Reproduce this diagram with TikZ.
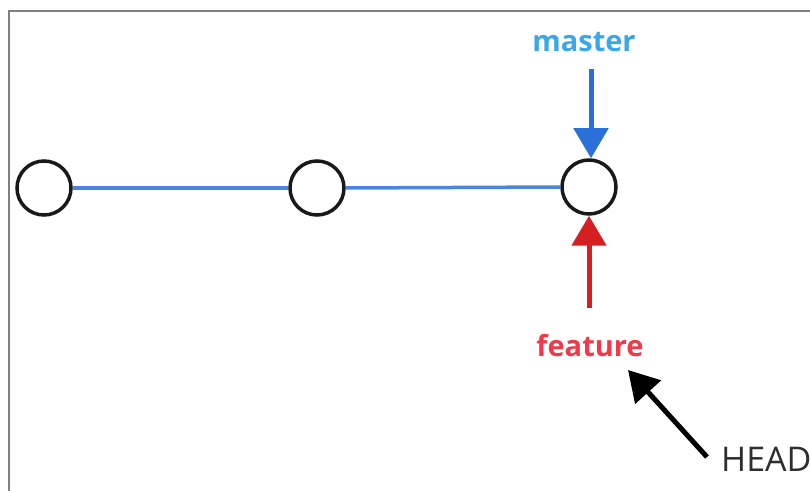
\documentclass[tikz,border=0pt]{standalone}
\usepackage{fontspec}
\setmainfont{Open Sans}
\usetikzlibrary{arrows.meta}
\definecolor{framegray}{HTML}{808080}
\definecolor{linkblue}{HTML}{4A86E0}
\definecolor{masterblue}{HTML}{2B6FD9}
\definecolor{mastertext}{HTML}{3AA8E8}
\definecolor{featred}{HTML}{D42020}
\definecolor{feattext}{HTML}{EE3A4A}
\definecolor{headtext}{HTML}{2E2E2E}
\tikzset{
  commit/.style={circle, draw=black!90, line width=3.5pt, fill=white, minimum size=54pt, inner sep=0pt},
  link/.style={draw=linkblue, line width=3.5pt},
  ptr/.style={line width=5pt, -{Triangle[length=30pt,width=34pt]}},
  lbl/.style={inner sep=0pt, font=\fontsize{29}{33}\selectfont\bfseries}
}
\begin{document}
\begin{tikzpicture}[x=1pt,y=1pt]
\useasboundingbox (0,0) rectangle (810,490);
\fill[white] (0,0) rectangle (810,490);
\draw[framegray, line width=2.5pt] (9,-20) -- (9,479) -- (830,479);
% commits
\node[commit] (c1) at (44,302) {};
\node[commit] (c2) at (317,302) {};
\node[commit] (c3) at (589,303) {};
\draw[link] (c1.east) -- (c2.west);
\draw[link] (c2.east) -- (c3.west);
% master
\node[lbl, text=mastertext] (master) at (584,448) {master};
\coordinate (mtop) at (591,421);
\draw[ptr, masterblue] (mtop) -- (mtop |- c3.north);
% feature
\node[lbl, text=feattext] (feature) at (590,144) {feature};
\coordinate (fbot) at (589,182);
\draw[ptr, featred] (fbot) -- (fbot |- c3.south);
% HEAD
\node[inner sep=0pt, text=headtext, anchor=west, font=\fontsize{34}{38}\selectfont] (head) at (721,31) {HEAD};
\coordinate (htail) at (707,33);
\coordinate (htip) at (628,120);
\draw[ptr, black] (htail) -- (htip);
\end{tikzpicture}
\end{document}
